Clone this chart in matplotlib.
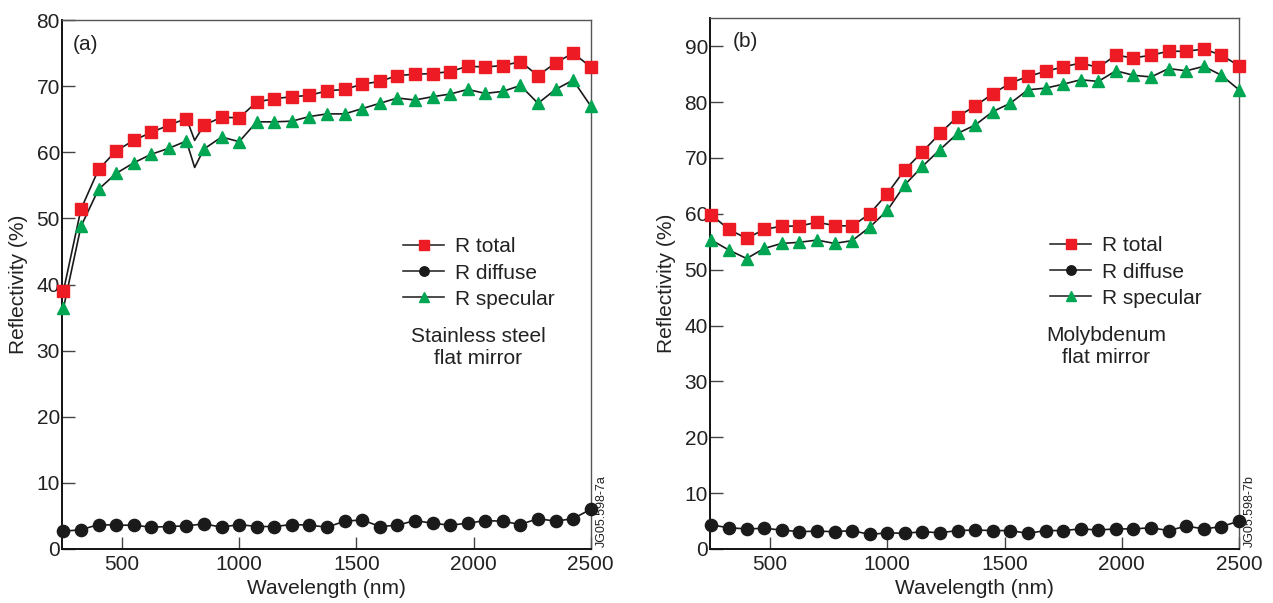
import matplotlib
matplotlib.use("Agg")
import matplotlib.pyplot as plt

plt.rcParams['font.family'] = ['Liberation Sans', 'DejaVu Sans']

# ---------------- data ----------------
wavelength = [250, 325, 400, 475, 550, 625, 700, 775, 850, 925, 1000, 1075,
              1150, 1225, 1300, 1375, 1450, 1525, 1600, 1675, 1750, 1825,
              1900, 1975, 2050, 2125, 2200, 2275, 2350, 2425, 2500]

# (a) stainless steel
ss_total = [39.0, 51.4, 57.4, 60.2, 61.8, 63.0, 64.1, 65.1, 64.1, 65.3, 65.2,
            67.6, 68.1, 68.4, 68.6, 69.3, 69.5, 70.3, 70.7, 71.6, 71.8, 71.9,
            72.2, 73.0, 72.9, 73.1, 73.7, 71.6, 73.5, 75.0, 72.9]
ss_diffuse = [2.7, 2.9, 3.7, 3.6, 3.6, 3.3, 3.4, 3.5, 3.8, 3.3, 3.7, 3.4,
              3.4, 3.7, 3.6, 3.3, 4.2, 4.4, 3.4, 3.6, 4.3, 3.9, 3.6, 3.9,
              4.3, 4.2, 3.7, 4.6, 4.2, 4.6, 6.0]
ss_specular = [36.4, 48.8, 54.4, 56.8, 58.4, 59.7, 60.6, 61.7, 60.5, 62.3,
               61.6, 64.6, 64.6, 64.7, 65.4, 65.8, 65.8, 66.6, 67.4, 68.2,
               67.9, 68.4, 68.8, 69.5, 68.9, 69.2, 70.1, 67.4, 69.5, 70.9, 67.0]
# features of the measured traces between marker points (a)
ss_dip_wl = [810]
ss_dip_total = [61.8]
ss_dip_specular = [57.7]

# (b) molybdenum
mo_total = [59.8, 57.2, 55.6, 57.2, 57.8, 57.8, 58.5, 57.9, 57.8, 60.0, 63.6,
            67.9, 71.1, 74.4, 77.4, 79.3, 81.5, 83.4, 84.6, 85.5, 86.3, 87.0,
            86.2, 88.4, 87.9, 88.4, 89.1, 89.1, 89.5, 88.4, 86.5]
mo_diffuse = [4.3, 3.8, 3.6, 3.7, 3.4, 3.1, 3.2, 3.1, 3.3, 2.6, 2.9, 2.8,
              3.1, 2.9, 3.3, 3.4, 3.3, 3.3, 2.8, 3.3, 3.3, 3.6, 3.4, 3.6,
              3.6, 3.8, 3.3, 4.1, 3.6, 4.0, 5.0]
mo_specular = [55.3, 53.5, 52.0, 53.8, 54.7, 54.9, 55.3, 54.7, 55.2, 57.6,
               60.6, 65.2, 68.5, 71.5, 74.4, 75.9, 78.3, 79.8, 82.2, 82.5,
               83.2, 84.0, 83.7, 85.6, 84.8, 84.5, 86.0, 85.6, 86.4, 84.8, 82.2]

series_labels = ["R total", "R diffuse", "R specular"]
x_ticks = [500, 1000, 1500, 2000, 2500]

RED = '#ED1C24'
GREEN = '#00A651'
INK = '#1a1a1a'
TXT = '#222222'
FS = 15


def merged(wl, vals, extra_wl, extra_vals):
    pts = sorted(list(zip(wl, vals)) + list(zip(extra_wl, extra_vals)))
    return [p[0] for p in pts], [p[1] for p in pts]


fig = plt.figure(figsize=(12.73, 6.03), dpi=100)
axA = fig.add_axes([62 / 1273, 54 / 603, 528.7 / 1273, 529 / 603])
axB = fig.add_axes([710 / 1273, 54 / 603, 529 / 1273, 530.7 / 603])


def draw(ax, total, diffuse, specular, legx, tw=None, tv=None, sv=None):
    if tw is None:
        tw, tv, sv = [], [], []
    lx, ly = merged(wavelength, total, tw, tv)
    ax.plot(lx, ly, color=INK, lw=1.2, zorder=2)
    lx, ly = merged(wavelength, specular, tw, sv)
    ax.plot(lx, ly, color=INK, lw=1.2, zorder=2)
    ax.plot(wavelength, diffuse, color=INK, lw=1.2, zorder=2)
    ax.plot(wavelength, total, ls='none', marker='s', ms=8.2, color=RED,
            mec=RED, zorder=3, clip_on=False)
    ax.plot(wavelength, diffuse, ls='none', marker='o', ms=8.8, color=INK,
            zorder=3, clip_on=False)
    ax.plot(wavelength, specular, ls='none', marker='^', ms=9.0, color=GREEN,
            mec=GREEN, zorder=3, clip_on=False)
    # legend proxies
    h1, = ax.plot([], [], color=INK, lw=1.1, marker='s', ms=6.8,
                  mfc=RED, mec=RED)
    h2, = ax.plot([], [], color=INK, lw=1.1, marker='o', ms=6.8,
                  mfc=INK, mec=INK)
    h3, = ax.plot([], [], color=INK, lw=1.1, marker='^', ms=7.2,
                  mfc=GREEN, mec=GREEN)
    ax.legend([h1, h2, h3], series_labels, loc='upper left',
              bbox_to_anchor=(legx, 0.589), frameon=False,
              fontsize=FS, borderpad=0, borderaxespad=0,
              handlelength=1.97, handletextpad=0.53,
              labelspacing=0.34, numpoints=1, labelcolor=TXT)
    ax.set_xlim(244, 2500)
    ax.set_xticks(x_ticks)
    ax.tick_params(axis='both', direction='in', length=9, width=1,
                   color='#444444', labelsize=FS, labelcolor=TXT)
    ax.tick_params(axis='y', pad=1.5)
    ax.tick_params(axis='x', pad=4.5)
    ax.set_xlabel("Wavelength (nm)", fontsize=FS, color=TXT)
    ax.set_ylabel("Reflectivity (%)", fontsize=FS, color=TXT)
    ax.xaxis.set_label_coords(0.5, -0.057)
    ax.yaxis.set_label_coords(-0.064, 0.5)
    for s in ('left', 'bottom'):
        ax.spines[s].set_color('#111111')
        ax.spines[s].set_linewidth(1.4)
    for s in ('top', 'right'):
        ax.spines[s].set_color('#555555')
        ax.spines[s].set_linewidth(1.0)


draw(axA, ss_total, ss_diffuse, ss_specular, 0.645,
     ss_dip_wl, ss_dip_total, ss_dip_specular)
axA.set_ylim(0, 80)
axA.set_yticks(range(0, 81, 10))
axA.text(0.021, 0.953, "(a)", transform=axA.transAxes, fontsize=FS,
         va='center', ha='left', color=TXT)
axA.text(0.787, 0.381, "Stainless steel\nflat mirror", transform=axA.transAxes,
         fontsize=FS, ha='center', va='center', linespacing=1.2, color=TXT)
fig.text(596 / 1273, 56 / 603, "JG05.598-7a", rotation=90, fontsize=9,
         ha='left', va='bottom', color=TXT)

draw(axB, mo_total, mo_diffuse, mo_specular, 0.643)
axB.set_ylim(0, 95)
axB.set_yticks(range(0, 91, 10))
axB.text(0.043, 0.956, "(b)", transform=axB.transAxes, fontsize=FS,
         va='center', ha='left', color=TXT)
axB.text(0.749, 0.381, "Molybdenum\nflat mirror", transform=axB.transAxes,
         fontsize=FS, ha='center', va='center', linespacing=1.2, color=TXT)
fig.text(1244 / 1273, 56 / 603, "JG05.598-7b", rotation=90, fontsize=9,
         ha='left', va='bottom', color=TXT)

fig.savefig("out.png", dpi=100)
